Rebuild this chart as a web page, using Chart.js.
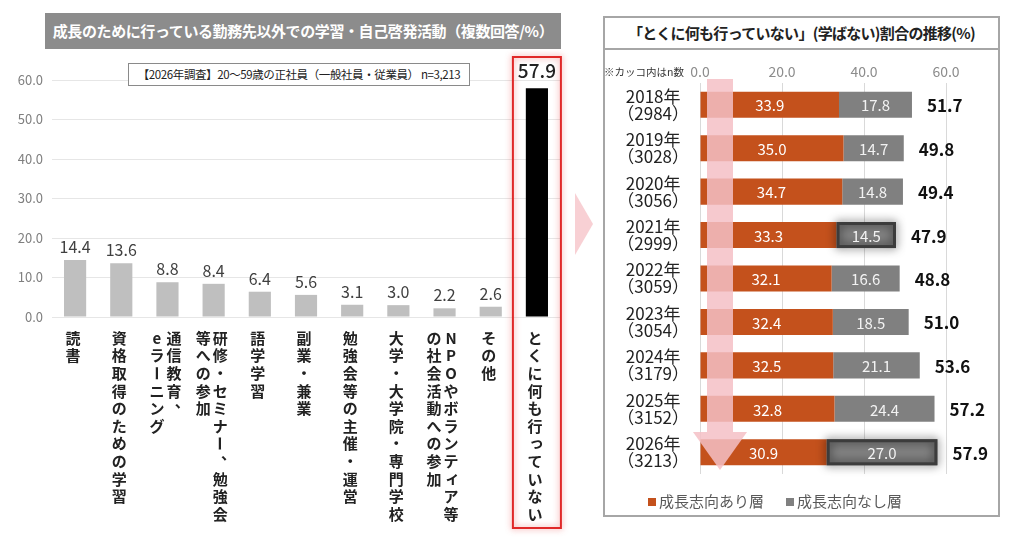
<!DOCTYPE html>
<html><head><meta charset="utf-8">
<script src="https://cdn.jsdelivr.net/npm/chart.js@4.4.1/dist/chart.umd.min.js"></script>
<style>
html,body{margin:0;padding:0;background:#fff;}
body{width:1020px;height:550px;position:relative;overflow:hidden;font-family:"Noto Sans CJK JP","Noto Sans",sans-serif;}
#lc{position:absolute;left:0;top:0;}
#rc{position:absolute;left:605px;top:50px;}
.ttl{position:absolute;left:45px;top:13px;width:516px;height:36px;background:#8c8c8c;color:#fff;font-weight:bold;font-size:15px;line-height:36px;text-align:center;letter-spacing:-0.4px;}
.info{position:absolute;left:128px;top:63px;width:342px;height:23px;border:1px solid #8a8a8a;box-sizing:border-box;font-size:11.5px;line-height:21px;text-align:center;color:#222;background:#fff;z-index:2;letter-spacing:-0.4px;white-space:nowrap;overflow:hidden;}
.frame{position:absolute;left:603px;top:16px;width:397px;height:501px;border:2px solid #a6a6a6;box-sizing:border-box;}
.rt{position:absolute;left:0;top:0;width:100%;height:30px;border-bottom:2px solid #a6a6a6;font-weight:bold;font-size:15px;line-height:30px;text-align:center;color:#222;letter-spacing:-0.7px;white-space:nowrap;}
.tri{position:absolute;left:575px;top:193px;width:0;height:0;border-left:18px solid #f8d0d4;border-top:31px solid transparent;border-bottom:31px solid transparent;}
</style>
</head><body>
<div class="ttl">成長のために行っている勤務先以外での学習・自己啓発活動（複数回答/%）</div>
<div class="info">【2026年調査】20～59歳の正社員（一般社員・従業員） n=3,213</div>
<canvas id="lc" width="570" height="550"></canvas>
<div class="tri"></div>
<div class="frame"><div class="rt">「とくに何も行っていない」(学ばない)割合の推移(%)</div></div>
<canvas id="rc" width="393" height="465"></canvas>
<script>
// ---------- Left chart data ----------
const activityCategories = [
  ["読書"],
  ["資格取得のための学習"],
  ["通信教育、","eラーニング"],
  ["研修・セミナー、勉強会","等への参加"],
  ["語学学習"],
  ["副業・兼業"],
  ["勉強会等の主催・運営"],
  ["大学・大学院・専門学校"],
  ["NPOやボランティア等","の社会活動への参加"],
  ["その他"],
  ["とくに何も行っていない"]
];
const activityValues = [14.4, 13.6, 8.8, 8.4, 6.4, 5.6, 3.1, 3.0, 2.2, 2.6, 57.9];
const activityTicks = [0, 10, 20, 30, 40, 50, 60];

// ---------- Right chart data ----------
const years = ["2018年","2019年","2020年","2021年","2022年","2023年","2024年","2025年","2026年"];
const sampleSizes = ["2984","3028","3056","2999","3059","3054","3179","3152","3213"];
const growthYes = [33.9, 35.0, 34.7, 33.3, 32.1, 32.4, 32.5, 32.8, 30.9];
const growthNo  = [17.8, 14.7, 14.8, 14.5, 16.6, 18.5, 21.1, 24.4, 27.0];
const totals    = [51.7, 49.8, 49.4, 47.9, 48.8, 51.0, 53.6, 57.2, 57.9];
const seriesNames = ["成長志向あり層", "成長志向なし層"];
const highlightRows = [3, 8];

const FONT = '"Noto Sans CJK JP","Noto Sans",sans-serif';
Chart.defaults.font.family = FONT;

function drawVChar(ctx, ch, x, y, size){
  if ('ー－～〜'.includes(ch)) {
    ctx.save(); ctx.translate(x, y); ctx.rotate(Math.PI/2); ctx.fillText(ch, 0, 0); ctx.restore();
  } else if ('、。'.includes(ch)) {
    ctx.fillText(ch, x + size*0.55, y - size*0.5);
  } else if ('ッャュョィァゥェォっゃゅょ'.includes(ch)) {
    ctx.fillText(ch, x + size*0.1, y - size*0.1);
  } else {
    ctx.fillText(ch, x, y);
  }
}

const leftPlugin = {
  id: 'leftDeco',
  afterDatasetsDraw(chart){
    const ctx = chart.ctx;
    const xs = chart.scales.x;
    const meta = chart.getDatasetMeta(0);
    const last = activityValues.length - 1;
    // red highlight box around last category
    const cx = xs.getPixelForValue(last);
    ctx.save();
    ctx.strokeStyle = '#e02828';
    ctx.lineWidth = 2;
    ctx.shadowColor = 'rgba(235,80,80,0.7)';
    ctx.shadowBlur = 6;
    ctx.strokeRect(cx - 24, 57, 48, 471);
    ctx.restore();
    // value labels
    ctx.save();
    ctx.textAlign = 'center';
    ctx.textBaseline = 'alphabetic';
    meta.data.forEach((bar, i) => {
      if (i === last) {
        ctx.font = '500 19px ' + FONT; ctx.fillStyle = '#222';
        ctx.fillText(activityValues[i].toFixed(1), bar.x, bar.y - 10);
      } else {
        ctx.font = '16px ' + FONT; ctx.fillStyle = '#404040';
        ctx.fillText(activityValues[i].toFixed(1), bar.x, bar.y - 7);
      }
    });
    ctx.restore();
    // vertical category labels
    ctx.save();
    const size = 15;
    ctx.font = 'bold ' + size + 'px ' + FONT;
    ctx.fillStyle = '#222';
    ctx.textAlign = 'center';
    ctx.textBaseline = 'middle';
    const step = 17.6, colGap = 17;
    activityCategories.forEach((cols, i) => {
      const center = xs.getPixelForValue(i) - 2;
      const n = cols.length;
      cols.forEach((col, c) => {
        const x = center + (n - 1) / 2 * colGap - c * colGap;
        [...col].forEach((ch, k) => drawVChar(ctx, ch, x, 338 + k * step, size));
      });
    });
    ctx.restore();
  }
};

new Chart(document.getElementById('lc'), {
  type: 'bar',
  data: {
    labels: activityCategories,
    datasets: [{
      data: activityValues,
      backgroundColor: activityValues.map((v, i) => i === activityValues.length - 1 ? '#000000' : '#bfbfbf'),
      barPercentage: 0.48,
      categoryPercentage: 1
    }]
  },
  options: {
    responsive: false,
    animation: false,
    devicePixelRatio: 1,
    layout: { padding: { top: 80, bottom: 233, left: 0, right: 10 } },
    plugins: { legend: { display: false }, tooltip: { enabled: false } },
    scales: {
      x: {
        ticks: { display: false },
        grid: { display: false },
        border: { display: false },
        afterFit(s){ s.height = 0; }
      },
      y: {
        min: 0, max: 60,
        afterBuildTicks(s){ s.ticks = activityTicks.map(v => ({ value: v })); },
        ticks: { callback: v => Number(v).toFixed(1), color: '#7f7f7f', font: { size: 13 }, padding: 9 },
        grid: { color: '#e6e6e6', drawTicks: false },
        border: { display: false },
        afterFit(s){ s.width = 52; }
      }
    }
  },
  plugins: [leftPlugin]
});

// ---------- Right chart ----------
const rightPlugin = {
  id: 'rightDeco',
  afterDatasetsDraw(chart){
    const ctx = chart.ctx;
    const xs = chart.scales.x;
    const area = chart.chartArea;
    const m0 = chart.getDatasetMeta(0), m1 = chart.getDatasetMeta(1);
    // highlighted segments
    highlightRows.forEach(i => {
      const el = m1.data[i];
      const x0 = Math.min(el.base, el.x), w = Math.abs(el.x - el.base);
      const h = el.height;
      ctx.save();
      ctx.shadowColor = 'rgba(0,0,0,0.8)';
      ctx.shadowBlur = 10;
      ctx.strokeStyle = '#3c3c3c';
      ctx.lineWidth = 3;
      ctx.strokeRect(x0 + 1.5, el.y - h/2 + 1.5, w - 3, h - 3);
      ctx.restore();
    });
    // pink arrow
    const ax = xs.getPixelForValue(0) + 20;
    ctx.save();
    ctx.fillStyle = 'rgba(245,192,198,0.85)';
    ctx.beginPath();
    ctx.rect(ax - 13, area.top - 4, 26, 382 - (area.top - 4));
    ctx.fill();
    ctx.beginPath();
    ctx.moveTo(ax - 27, 382);
    ctx.lineTo(ax + 27, 382);
    ctx.lineTo(ax, 420);
    ctx.closePath();
    ctx.fill();
    ctx.restore();
    // inner labels
    ctx.save();
    ctx.font = '15px ' + FONT;
    ctx.textAlign = 'center';
    ctx.textBaseline = 'middle';
    m0.data.forEach((el, i) => {
      ctx.fillStyle = '#ffffff';
      ctx.fillText(growthYes[i].toFixed(1), (el.x + el.base) / 2, el.y + 1);
    });
    m1.data.forEach((el, i) => {
      ctx.fillStyle = '#f2f2f2';
      ctx.fillText(growthNo[i].toFixed(1), (el.x + el.base) / 2, el.y + 1);
    });
    // totals
    ctx.font = 'bold 17px ' + FONT;
    ctx.fillStyle = '#111';
    ctx.textAlign = 'left';
    m1.data.forEach((el, i) => {
      ctx.fillText(totals[i].toFixed(1), el.x + 15, el.y + 1);
    });
    // note
    ctx.font = '10.5px ' + FONT;
    ctx.fillStyle = '#333';
    ctx.fillText('※カッコ内はn数', -1, 22);
    // legend
    ctx.font = '15px ' + FONT;
    ctx.textBaseline = 'middle';
    const colors = chart.data.datasets.map(d => d.backgroundColor);
    const names = chart.data.datasets.map(d => d.label);
    const sq = 8, gapSq = 3, gapItem = 22;
    const widths = names.map(n => sq + gapSq + ctx.measureText(n).width);
    const total = widths[0] + gapItem + widths[1];
    let lx = 170 - total / 2;
    const ly = 451;
    names.forEach((n, k) => {
      ctx.fillStyle = colors[k];
      ctx.fillRect(lx, ly - 3, sq, sq);
      ctx.fillStyle = '#595959';
      ctx.fillText(n, lx + sq + gapSq, ly);
      lx += widths[k] + gapItem;
    });
    ctx.restore();
  }
};

new Chart(document.getElementById('rc'), {
  type: 'bar',
  data: {
    labels: years.map((y, i) => [y, '（' + sampleSizes[i] + '）']),
    datasets: [
      { label: seriesNames[0], data: growthYes, backgroundColor: '#c4511c', barPercentage: 0.6, categoryPercentage: 1 },
      { label: seriesNames[1], data: growthNo,  backgroundColor: '#808080', barPercentage: 0.6, categoryPercentage: 1 }
    ]
  },
  options: {
    indexAxis: 'y',
    responsive: false,
    animation: false,
    devicePixelRatio: 1,
    layout: { padding: { top: 0, bottom: 41, left: 0, right: 52 } },
    plugins: { legend: { display: false }, tooltip: { enabled: false } },
    scales: {
      x: {
        position: 'top',
        stacked: true,
        min: 0, max: 60,
        ticks: { stepSize: 20, callback: v => Number(v).toFixed(1), color: '#8c8c8c', font: { size: 14 }, padding: 3 },
        grid: { color: '#d9d9d9', drawTicks: false },
        border: { display: false },
        afterFit(s){ s.height = 33; }
      },
      y: {
        stacked: true,
        ticks: { color: '#222', font: { size: 17, lineHeight: 1.0 }, crossAlign: 'center', padding: 11 },
        grid: { display: false, drawTicks: false },
        border: { display: false },
        afterFit(s){ s.width = 95; }
      }
    }
  },
  plugins: [rightPlugin]
});
</script>
</body></html>
